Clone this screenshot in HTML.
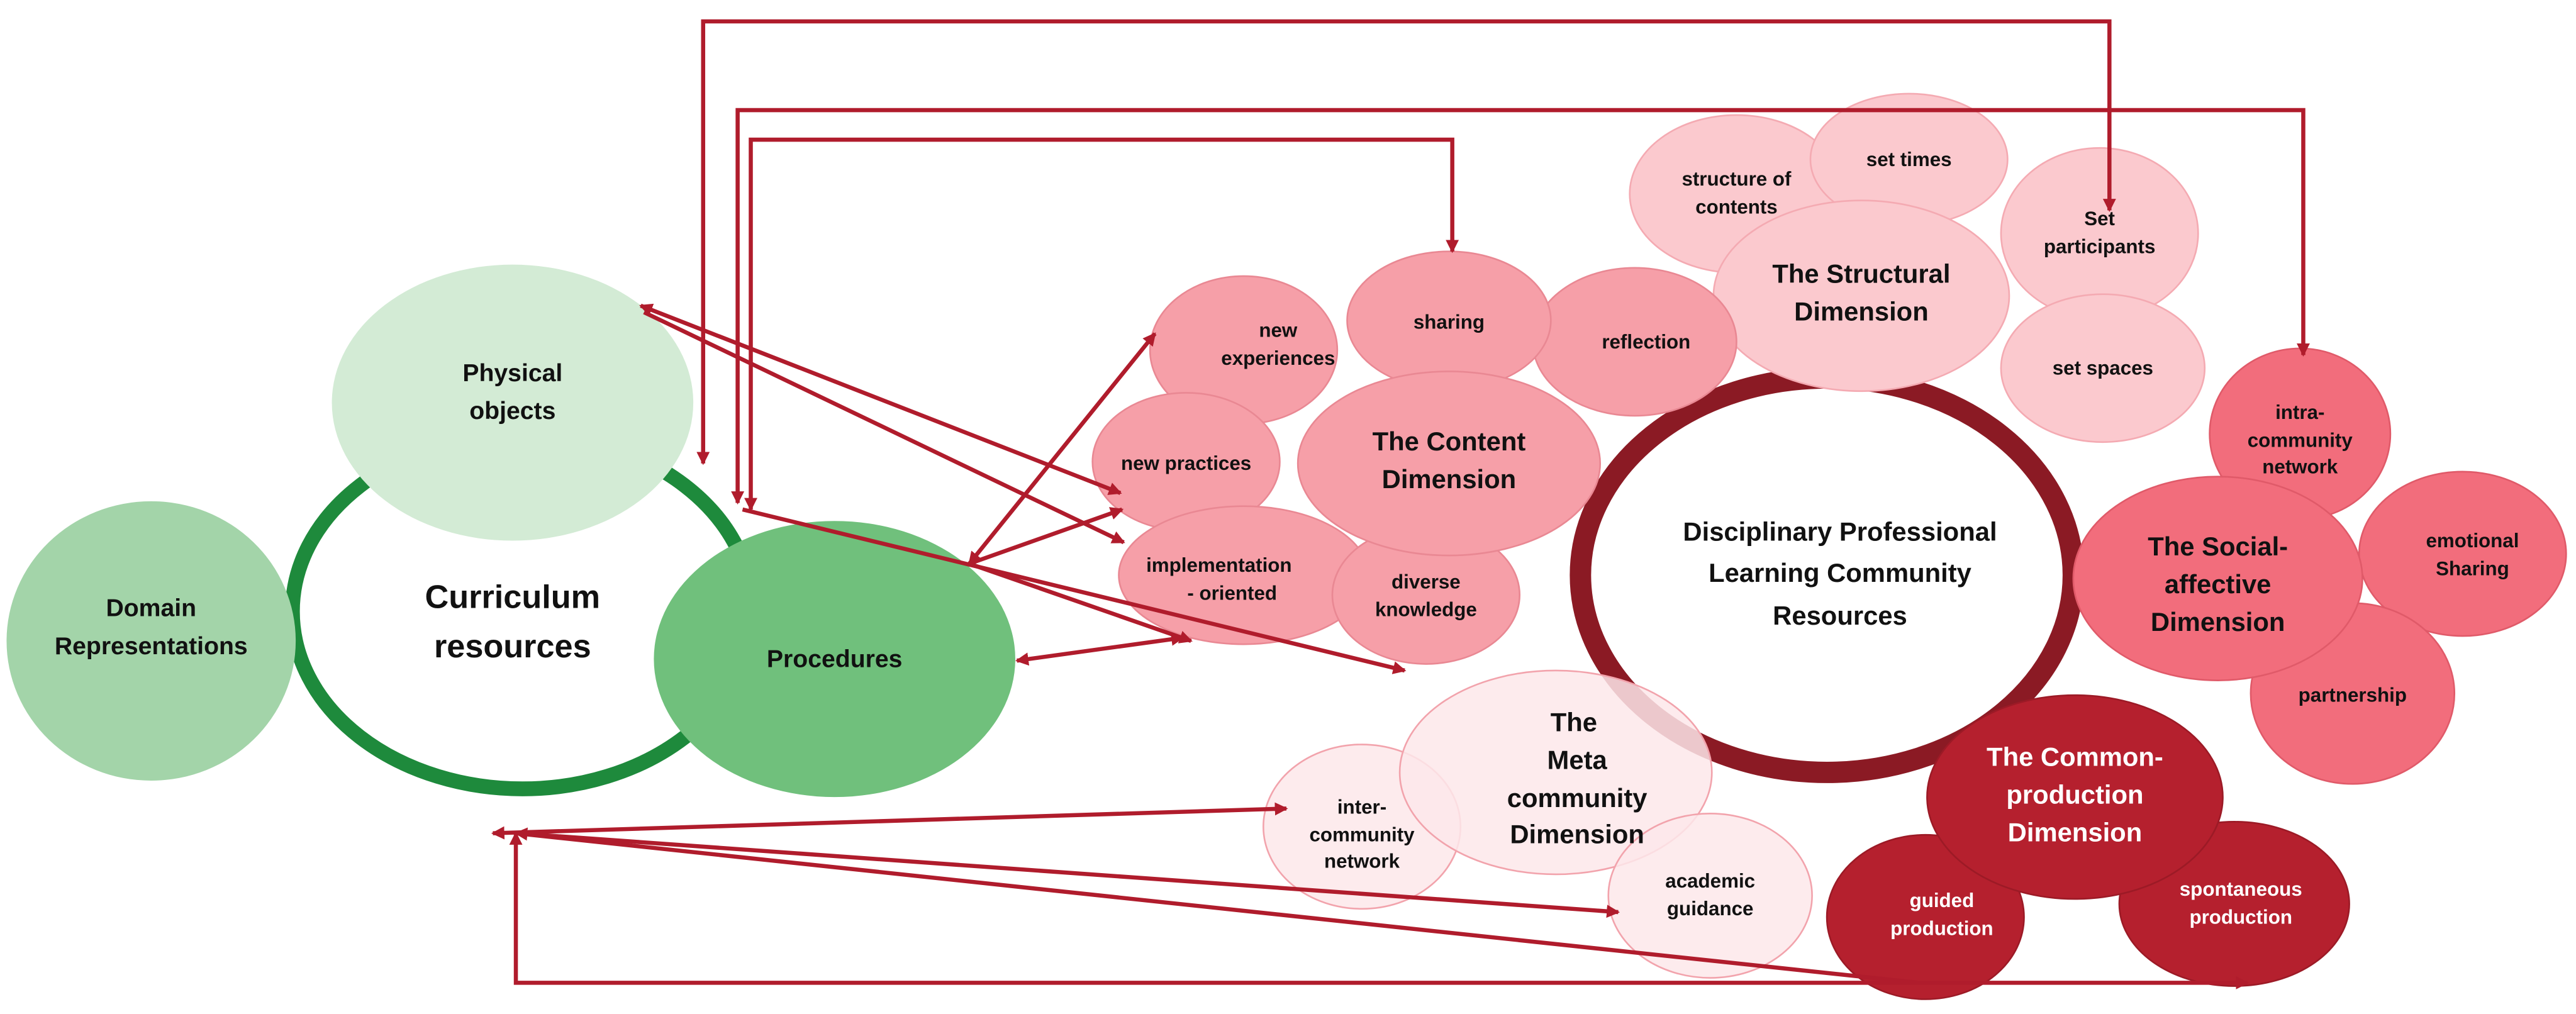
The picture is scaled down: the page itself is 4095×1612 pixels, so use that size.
<!DOCTYPE html>
<html><head><meta charset="utf-8"><style>
html,body{margin:0;padding:0;background:#fff}
svg{display:block}
text{font-family:"Liberation Sans",sans-serif;font-weight:bold;text-anchor:middle;fill:#111}
text.w{fill:#fff}
</style></head><body>
<svg width="4095" height="1612" viewBox="0 0 1568 617" preserveAspectRatio="none" xmlns="http://www.w3.org/2000/svg">
<defs>
<marker id="a" markerWidth="8" markerHeight="8" refX="7" refY="4" orient="auto-start-reverse" markerUnits="userSpaceOnUse"><path d="M0,0 L8,4 L0,8 z" fill="#b01c2c"/></marker>
</defs>
<!-- green ring -->
<ellipse cx="318" cy="372" rx="140" ry="108" fill="#fff" stroke="#1e8a3c" stroke-width="9"/>
<ellipse cx="92" cy="390" rx="88" ry="85" fill="#a3d4a9"/>
<ellipse cx="312" cy="245" rx="110" ry="84" fill="#d3ebd5"/>
<ellipse cx="508" cy="401" rx="110" ry="84" fill="#70c07c"/>
<text x="92" y="375" font-size="15">Domain</text><text x="92" y="398" font-size="15">Representations</text>
<text x="312" y="232" font-size="15">Physical</text><text x="312" y="255" font-size="15">objects</text>
<text x="508" y="406" font-size="15">Procedures</text>
<text x="312" y="370" font-size="20">Curriculum</text><text x="312" y="400" font-size="20">resources</text>

<!-- big ring -->
<ellipse cx="1112" cy="350" rx="150" ry="120" fill="#fff" stroke="#8b1a24" stroke-width="13"/>
<text x="1120" y="329" font-size="16">Disciplinary Professional</text>
<text x="1120" y="354" font-size="16">Learning Community</text>
<text x="1120" y="380" font-size="16">Resources</text>

<!-- structural -->
<g fill="#fbc9ce" stroke="#f4aab2" stroke-width="1">
<ellipse cx="1057" cy="118" rx="65" ry="48"/>
<ellipse cx="1162" cy="97" rx="60" ry="40"/>
<ellipse cx="1278" cy="142" rx="60" ry="52"/>
<ellipse cx="1280" cy="224" rx="62" ry="45"/>
<ellipse cx="1133" cy="180" rx="90" ry="58"/>
</g>
<g font-size="12"><text x="1057" y="113">structure of</text><text x="1057" y="130">contents</text>
<text x="1162" y="101">set times</text>
<text x="1278" y="137">Set</text><text x="1278" y="154">participants</text>
<text x="1280" y="228">set spaces</text></g>
<text x="1133" y="172" font-size="16">The Structural</text><text x="1133" y="195" font-size="16">Dimension</text>

<!-- content -->
<g fill="#f69fa8" stroke="#e98893" stroke-width="1">
<ellipse cx="995" cy="208" rx="62" ry="45"/>
<ellipse cx="757" cy="213" rx="57" ry="45"/>
<ellipse cx="882" cy="195" rx="62" ry="42"/>
<ellipse cx="722" cy="281" rx="57" ry="42"/>
<ellipse cx="757" cy="350" rx="76" ry="42"/>
<ellipse cx="868" cy="362" rx="57" ry="42"/>
<ellipse cx="882" cy="282" rx="92" ry="56"/>
</g>
<g font-size="12"><text x="778" y="205">new</text><text x="778" y="222">experiences</text>
<text x="882" y="200">sharing</text><text x="1002" y="212">reflection</text>
<text x="722" y="286">new practices</text>
<text x="742" y="348">implementation</text><text x="750" y="365">- oriented</text>
<text x="868" y="358">diverse</text><text x="868" y="375">knowledge</text></g>
<text x="882" y="274" font-size="16">The Content</text><text x="882" y="297" font-size="16">Dimension</text>

<!-- social -->
<g fill="#f26d7c" stroke="#e05a69" stroke-width="1">
<ellipse cx="1400" cy="264" rx="55" ry="52"/>
<ellipse cx="1499" cy="337" rx="63" ry="50"/>
<ellipse cx="1432" cy="422" rx="62" ry="55"/>
<ellipse cx="1350" cy="352" rx="88" ry="62"/>
</g>
<g font-size="12"><text x="1400" y="255">intra-</text><text x="1400" y="272">community</text><text x="1400" y="288">network</text>
<text x="1505" y="333">emotional</text><text x="1505" y="350">Sharing</text>
<text x="1432" y="427">partnership</text></g>
<text x="1350" y="338" font-size="16">The Social-</text><text x="1350" y="361" font-size="16">affective</text><text x="1350" y="384" font-size="16">Dimension</text>

<!-- meta -->
<g fill="#fde8ea" fill-opacity="0.85" stroke="#f2a3ac" stroke-width="1">
<ellipse cx="829" cy="503" rx="60" ry="50"/>
<ellipse cx="947" cy="470" rx="95" ry="62"/>
<ellipse cx="1041" cy="545" rx="62" ry="50"/>
</g>
<g font-size="12"><text x="829" y="495">inter-</text><text x="829" y="512">community</text><text x="829" y="528">network</text>
<text x="1041" y="540">academic</text><text x="1041" y="557">guidance</text></g>
<g font-size="16"><text x="958" y="445">The</text><text x="960" y="468">Meta</text><text x="960" y="491">community</text><text x="960" y="513">Dimension</text></g>

<!-- common production -->
<g fill="#b5202e" stroke="#9c1a26" stroke-width="1">
<ellipse cx="1172" cy="558" rx="60" ry="50"/>
<ellipse cx="1360" cy="550" rx="70" ry="50"/>
<ellipse cx="1263" cy="485" rx="90" ry="62"/>
</g>
<g font-size="12"><text class="w" x="1182" y="552">guided</text><text class="w" x="1182" y="569">production</text>
<text class="w" x="1364" y="545">spontaneous</text><text class="w" x="1364" y="562">production</text></g>
<g font-size="16"><text class="w" x="1263" y="466">The Common-</text><text class="w" x="1263" y="489">production</text><text class="w" x="1263" y="512">Dimension</text></g>

<!-- arrows -->
<g stroke="#b01c2c" stroke-width="2.5" fill="none">
<path d="M428,282 L428,13 L1284,13 L1284,128" marker-start="url(#a)" marker-end="url(#a)"/>
<path d="M449,306 L449,67 L1402,67 L1402,216" marker-start="url(#a)" marker-end="url(#a)"/>
<path d="M457,310 L457,85 L884,85 L884,153" marker-start="url(#a)" marker-end="url(#a)"/>
<path d="M390,186 L682,300" marker-start="url(#a)" marker-end="url(#a)"/>
<path d="M392,190 L684,330" marker-end="url(#a)"/>
<path d="M452,310 L855,408" marker-end="url(#a)"/>
<path d="M590,343 L703,203" marker-start="url(#a)" marker-end="url(#a)"/>
<path d="M590,343 L683,310" marker-end="url(#a)"/>
<path d="M590,343 L725,390" marker-end="url(#a)"/>
<path d="M619,402 L720,388" marker-start="url(#a)" marker-end="url(#a)"/>
<path d="M300,507 L783,492" marker-start="url(#a)" marker-end="url(#a)"/>
<path d="M314,507 L985,555" marker-start="url(#a)" marker-end="url(#a)"/>
<path d="M314,507 L1168,598"/>
<path d="M314,507 L314,598 L1368,598" marker-start="url(#a)" marker-end="url(#a)"/>
</g>
</svg>
</body></html>
